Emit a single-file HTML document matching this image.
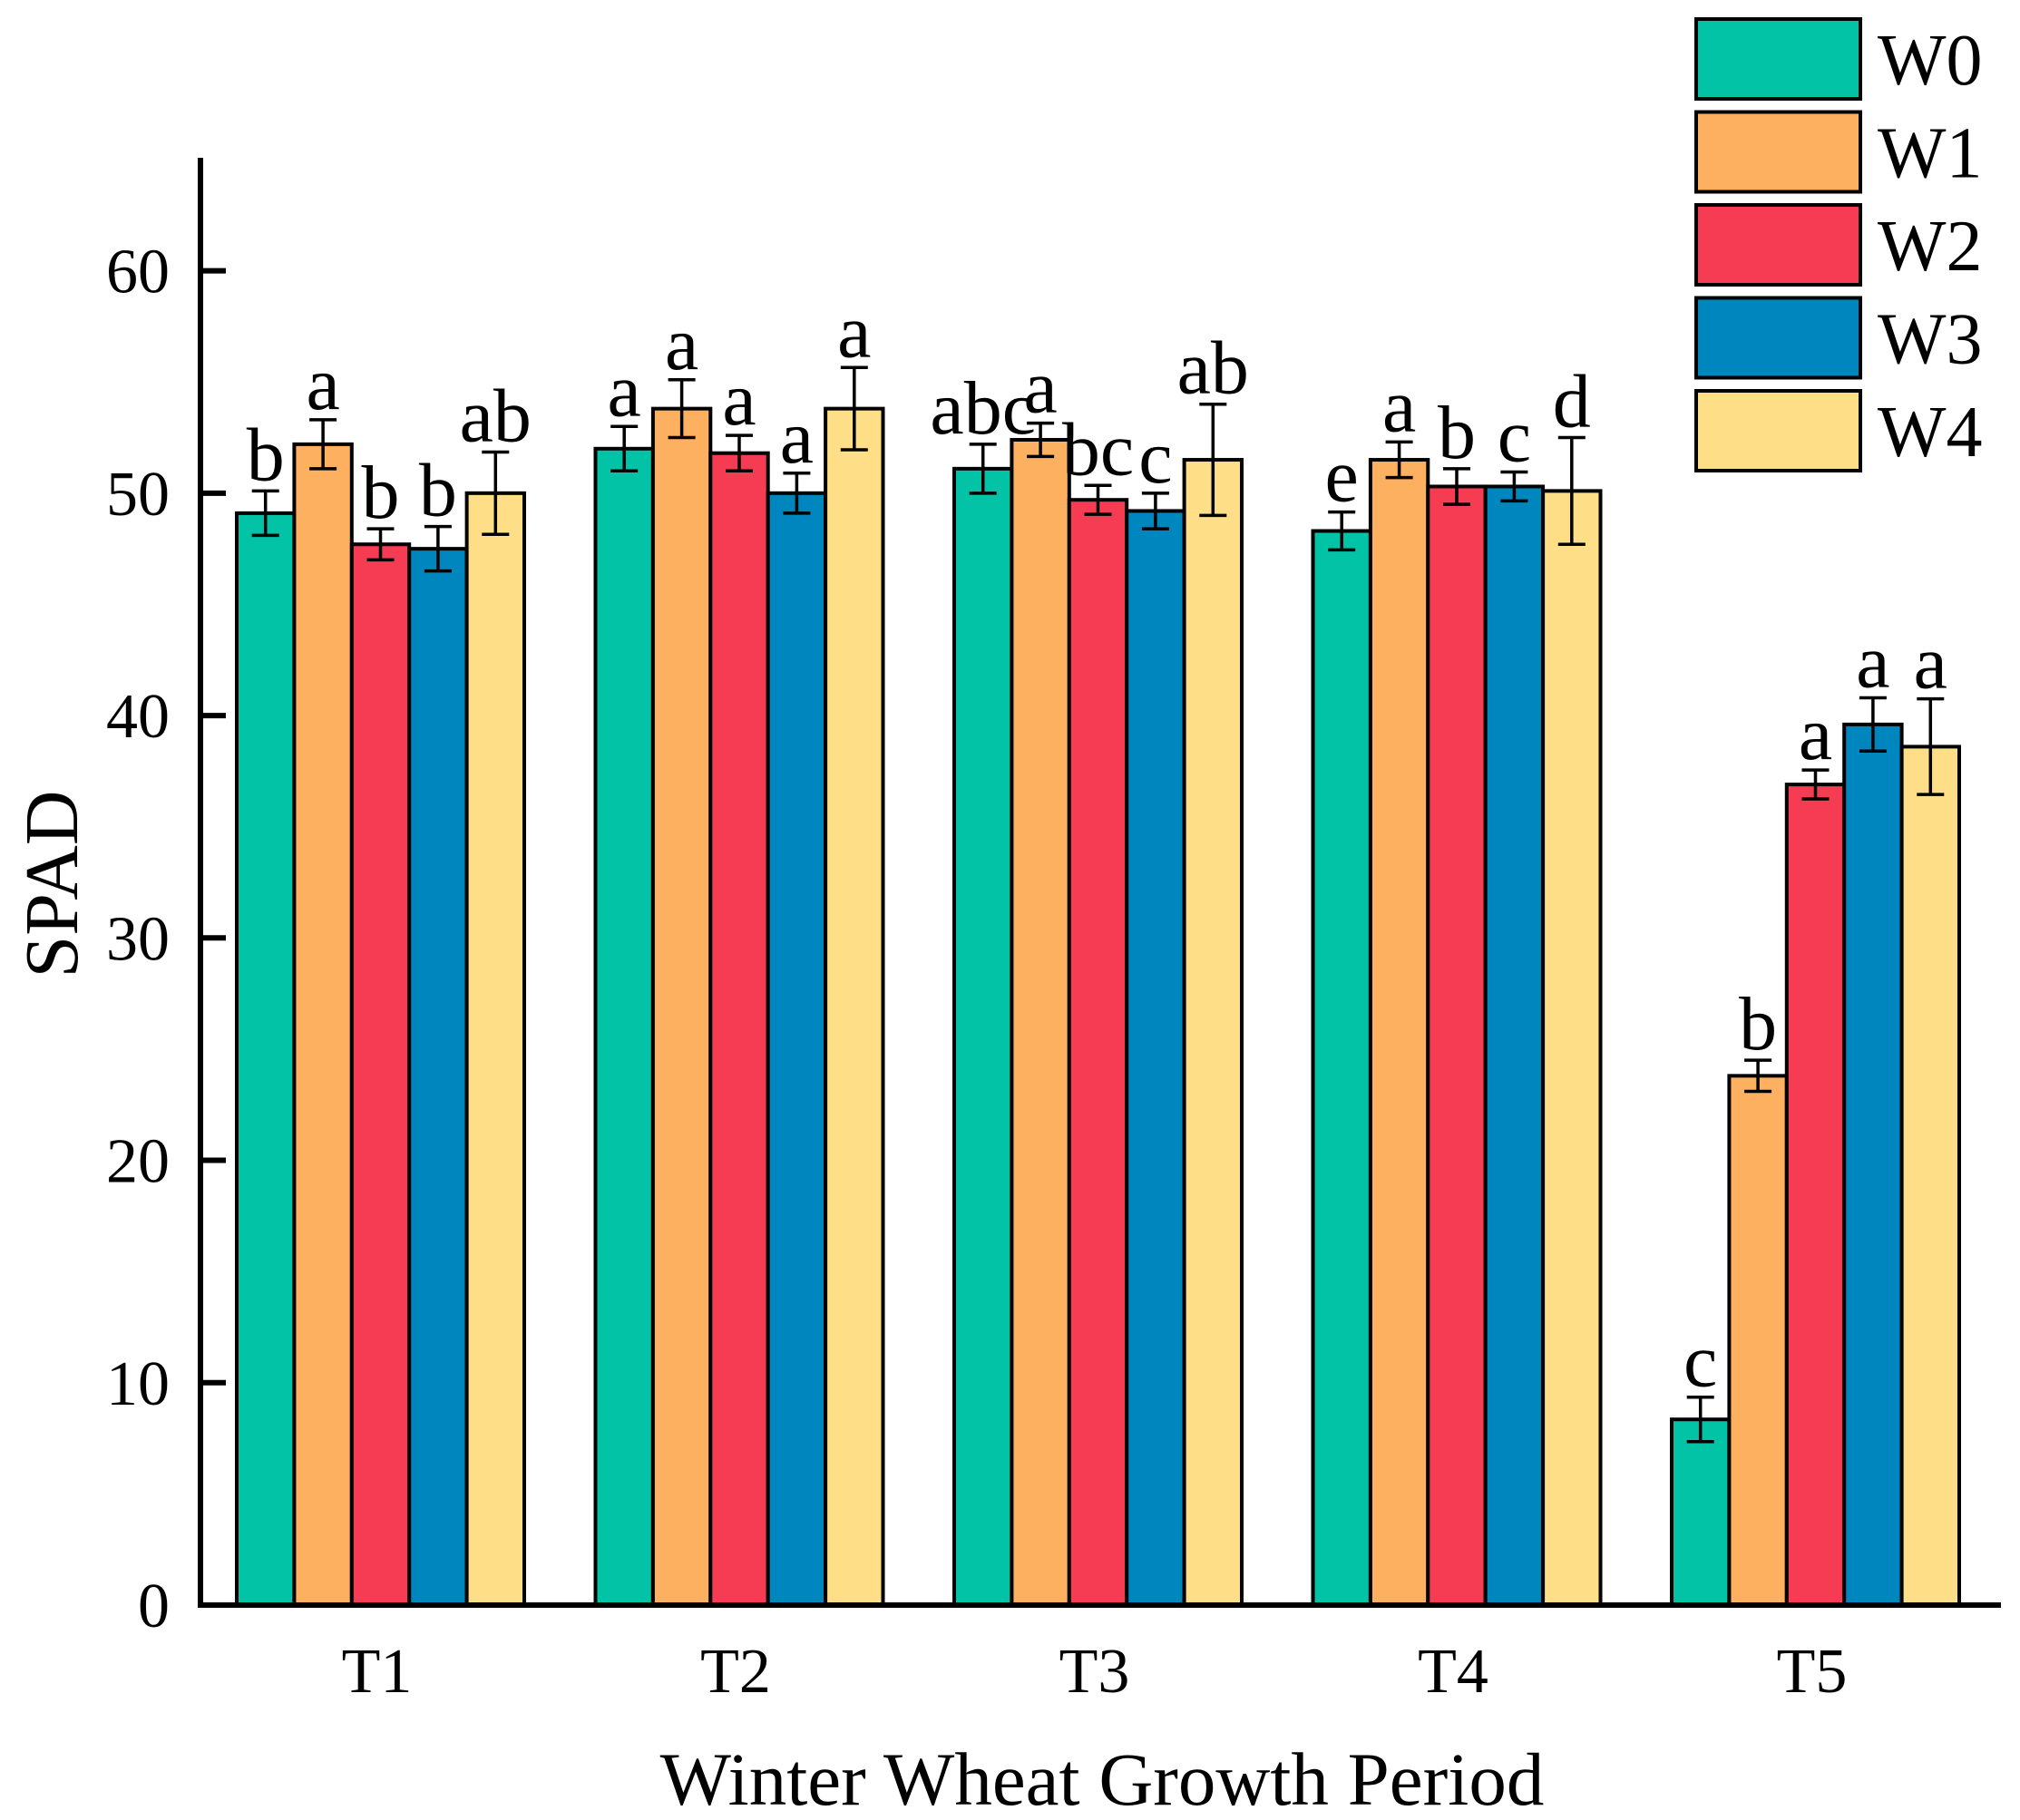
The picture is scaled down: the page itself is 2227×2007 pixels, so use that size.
<!DOCTYPE html>
<html><head><meta charset="utf-8"><style>
body{margin:0;background:#fff}
svg{display:block;font-family:"Liberation Serif",serif}
</style></head><body>
<svg id="chart" width="2227" height="2007" viewBox="0 0 2227 2007">
</svg>
<script>
const categories=["T1","T2","T3","T4","T5"];
const seriesNames=["W0","W1","W2","W3","W4"];
const colors=["#02c3a6","#feb061","#f53c52","#0086be","#fede87"];
const W0=[49.1,52.0,51.1,48.3,8.35];
const W1=[52.2,53.8,52.4,51.5,23.8];
const W2=[47.7,51.8,49.7,50.3,36.9];
const W3=[47.5,50.0,49.2,50.3,39.6];
const W4=[50.0,53.8,51.5,50.1,38.6];
const E0=[1.0,1.0,1.1,0.85,1.0];
const E1=[1.1,1.3,0.75,0.8,0.7];
const E2=[0.7,0.8,0.65,0.8,0.65];
const E3=[1.0,0.9,0.8,0.65,1.2];
const E4=[1.85,1.85,2.5,2.4,2.15];
const L0=["b","a","abc","e","c"];
const L1=["a","a","a","a","b"];
const L2=["b","a","bc","b","a"];
const L3=["b","a","c","c","a"];
const L4=["ab","a","ab","d","a"];
const yTicks=[0,10,20,30,40,50,60];

const values=[W0,W1,W2,W3,W4], errs=[E0,E1,E2,E3,E4], letters=[L0,L1,L2,L3,L4];
const svg=document.getElementById('chart');
const NS='http://www.w3.org/2000/svg';
const x0=221, y0=1770, pxPerUnit=(1770-298.6)/60;
const groupStart=261, groupStep=395.5, barW=63.4;
function y(v){return y0-v*pxPerUnit;}
function xBar(g,s){return groupStart+g*groupStep+s*barW;}
function mk(tag,attrs,parent){const e=document.createElementNS(NS,tag);for(const k in attrs)e.setAttribute(k,attrs[k]);(parent||svg).appendChild(e);return e;}

for(let s=0;s<5;s++){
  for(let g=0;g<5;g++){
    const v=values[s][g], e=errs[s][g], bx=xBar(g,s);
    const r=mk('rect',{x:bx,y:y(v),width:barW,height:y0-y(v),fill:colors[s],stroke:'#000','stroke-width':4});
    
    
    const cx=bx+barW/2, t=y(v+e), b=y(v-e);
    const eb=mk('path',{d:`M${cx},${t}V${b}M${cx-15},${t}H${cx+15}M${cx-15},${b}H${cx+15}`,stroke:'#000','stroke-width':3.5,fill:'none'});
    
    
    const lt=mk('text',{x:cx,y:t-12,'font-size':84,'text-anchor':'middle',fill:'#000'});
    lt.textContent=letters[s][g];
    
    
  }
}
const ax=mk('path',{d:`M${x0},174V${y0+3}M${x0-3},${y0}H2206`,stroke:'#000','stroke-width':6,fill:'none'});


for(const t of yTicks){
  const tk=mk('line',{x1:x0,x2:x0+28,y1:y(t),y2:y(t),stroke:'#000','stroke-width':6});
  
  
  const tl=mk('text',{x:x0-34,y:y(t)+24,'font-size':70,'text-anchor':'end',fill:'#000'});
  tl.textContent=t;
  
  
}
for(let g=0;g<5;g++){
  const cx=groupStart+g*groupStep+2.5*barW;
  const cl=mk('text',{x:cx-4,y:1866,'font-size':70,'text-anchor':'middle',fill:'#000'});
  cl.textContent=categories[g];
  
  
}
const xt=mk('text',{x:1215,y:1990,'font-size':83,'text-anchor':'middle',fill:'#000'});
xt.textContent='Winter Wheat Growth Period';


const yt=mk('text',{x:0,y:0,'font-size':84,'text-anchor':'middle',fill:'#000',transform:'translate(85,975) rotate(-90)'});
yt.textContent='SPAD';


for(let s=0;s<5;s++){
  const ly=21+s*102.5;
  const lr=mk('rect',{x:1870,y:ly,width:181,height:88,fill:colors[s],stroke:'#000','stroke-width':4});
  
  
  const lt=mk('text',{x:2070,y:ly+72,'font-size':80,fill:'#000'});
  lt.textContent=seriesNames[s];
  
  
}
</script>
</body></html>
